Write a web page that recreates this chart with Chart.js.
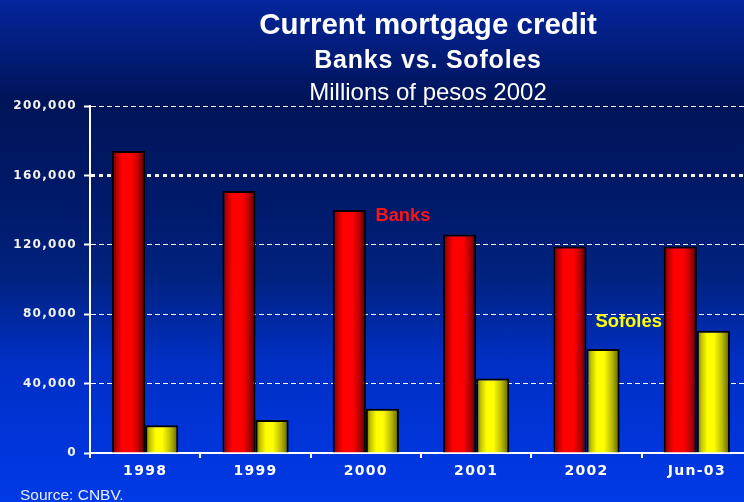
<!DOCTYPE html>
<html>
<head>
<meta charset="utf-8">
<title>Current mortgage credit</title>
<script src="https://cdn.jsdelivr.net/npm/chart.js@4/dist/chart.umd.min.js"></script>
<style>
  html, body { margin: 0; padding: 0; }
  body {
    position: relative;
    width: 744px;
    height: 502px;
    overflow: hidden;
    background: linear-gradient(to bottom,
      #04259c 0%, #001458 20%, #001a6c 42%, #00227f 55%,
      #002fc4 72%, #0034d8 86%, #0039e6 100%);
    font-family: "Liberation Sans", Arial, sans-serif;
  }
  #chart { position: absolute; left: 0; top: 0; }
  .txt { position: absolute; white-space: nowrap; line-height: 1; }
  .center { transform: translateX(-50%); }
  #t1 { left: 428px; top: 9px; font-size: 29.5px; font-weight: bold; color: #ffffff; }
  #t2 { left: 428px; top: 47px; font-size: 25px; font-weight: bold; color: #ffffff; letter-spacing: 0.8px; }
  #t3 { left: 428px; top: 80px; font-size: 24px; color: #ffffff; }
  #lbBanks { left: 375.5px; top: 206px; font-size: 18.3px; font-weight: bold; color: #ff1414; }
  #lbSofoles { left: 595.5px; top: 312px; font-size: 18.4px; font-weight: bold; color: #ffff00; }
  #source { left: 20px; top: 486.5px; font-size: 15.5px; color: #e8eeff; }
</style>
</head>
<body>
<canvas id="chart" width="752" height="502"></canvas>
<div id="t1" class="txt center">Current mortgage credit</div>
<div id="t2" class="txt center">Banks vs. Sofoles</div>
<div id="t3" class="txt center">Millions of pesos 2002</div>
<div id="lbBanks" class="txt">Banks</div>
<div id="lbSofoles" class="txt">Sofoles</div>
<div id="source" class="txt">Source: CNBV.</div>
<script>
// Mortgage credit outstanding, millions of 2002 pesos
const categories = ['1998', '1999', '2000', '2001', '2002', 'Jun-03'];
const banks = [174000, 151000, 140000, 126000, 119000, 119000];
const sofoles = [16000, 19000, 25500, 43000, 60000, 70500];
const yTicks = [0, 40000, 80000, 120000, 160000, 200000];
const emphasisTick = 160000;

// Cylinder-style horizontal shading for each series
const redShade = [[0, '#6a0000'], [0.12, '#b00000'], [0.3, '#ff0000'], [0.6, '#ff0000'], [0.8, '#bb0000'], [1, '#4a0000']];
const yellowShade = [[0, '#6e6e00'], [0.14, '#c4c400'], [0.32, '#ffff00'], [0.52, '#ffff00'], [0.76, '#bcbc00'], [1, '#5c5c00']];

const barShading = {
  id: 'barShading',
  beforeDatasetsDraw(chart) {
    const ctx = chart.ctx;
    const shades = [redShade, yellowShade];
    chart.data.datasets.forEach((ds, i) => {
      const meta = chart.getDatasetMeta(i);
      meta.data.forEach(bar => {
        const half = bar.width / 2;
        const g = ctx.createLinearGradient(bar.x - half, 0, bar.x + half, 0);
        shades[i].forEach(([p, c]) => g.addColorStop(p, c));
        bar.options = Object.assign({}, bar.options, { backgroundColor: g });
      });
    });
  }
};

// Axis labels are set with expanded letter spacing
const spacedText = {
  id: 'spacedText',
  beforeLayout(chart) { chart.ctx.letterSpacing = '1.3px'; },
  beforeDraw(chart) { chart.ctx.letterSpacing = '1.3px'; }
};

const axisFont = { family: 'DejaVu Sans', weight: 'bold' };

new Chart(document.getElementById('chart'), {
  type: 'bar',
  data: {
    labels: categories,
    datasets: [
      { label: 'Banks', data: banks, borderColor: '#000000', borderWidth: 2 },
      { label: 'Sofoles', data: sofoles, borderColor: '#000000', borderWidth: 2 }
    ]
  },
  options: {
    responsive: false,
    maintainAspectRatio: false,
    animation: false,
    events: [],
    categoryPercentage: 0.6,
    barPercentage: 1.0,
    layout: { padding: { top: 106, left: 0, right: 0, bottom: 0 } },
    plugins: {
      legend: { display: false },
      tooltip: { enabled: false },
      title: { display: false }
    },
    scales: {
      x: {
        afterFit(s) { s.height = 49; },
        grid: {
          offset: true,
          drawOnChartArea: false,
          drawTicks: true,
          tickLength: 5,
          color: '#ffffff',
          lineWidth: 2
        },
        border: { display: true, color: '#ffffff', width: 2 },
        ticks: {
          color: '#ffffff',
          font: Object.assign({ size: 14 }, axisFont),
          padding: 5,
          maxRotation: 0
        }
      },
      y: {
        min: 0,
        max: 200000,
        afterFit(s) { s.width = 90; },
        afterBuildTicks(s) { s.ticks = yTicks.map(v => ({ value: v })); },
        grid: {
          color: '#ffffff',
          lineWidth: c => (c.tick && c.tick.value === emphasisTick ? 3 : 1),
          drawTicks: true,
          tickLength: 6,
          tickWidth: 2,
          tickColor: '#ffffff',
          tickBorderDash: []
        },
        border: {
          display: true,
          color: '#ffffff',
          width: 2,
          dash: c => (c.tick && c.tick.value === emphasisTick ? [4, 4] : [5, 3])
        },
        ticks: {
          color: '#f2f2f2',
          font: Object.assign({ size: 12 }, axisFont),
          padding: 7,
          callback: v => Number(v).toLocaleString('en-US')
        }
      }
    }
  },
  plugins: [spacedText, barShading]
});
</script>
</body>
</html>
